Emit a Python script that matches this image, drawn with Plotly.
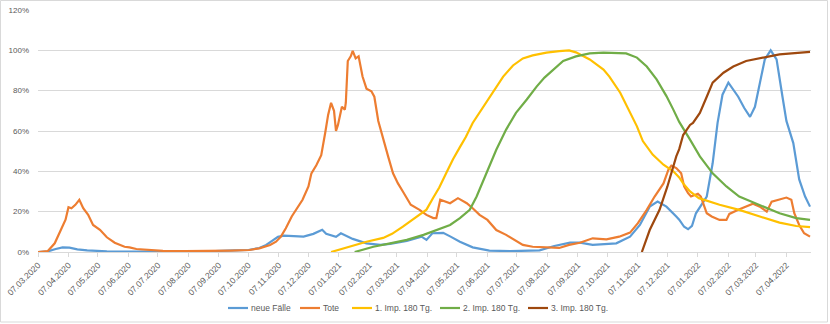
import pandas as pd
import plotly.graph_objects as go

# ---------------- data (day offsets from 07.03.2020, values in %) ----------------
start_date = "2020-03-07"

faelle_days = [0, 10, 18, 25, 32, 40, 50, 70, 100, 150, 180, 200, 214, 225, 232, 238, 244, 250, 260, 270,
               280, 289, 293, 297, 303, 308, 312, 320, 334, 348, 358, 375, 390, 395, 401, 412, 420, 429,
               442, 459, 480, 510, 525, 541, 551, 564, 588, 596, 602, 612, 622, 630, 639, 649, 652, 657,
               661, 665, 669, 680, 686, 691, 696, 702, 712, 718, 724, 729, 734, 739, 745, 751, 757, 761,
               768, 774, 780, 785]
faelle_vals = [0, 0.3, 1.5, 2.3, 2.2, 1.3, 0.8, 0.3, 0.2, 0.3, 0.5, 0.8, 1.0, 2.0, 3.5, 5.5, 7.5, 8.1, 8.0, 7.6,
               9.0, 11.0, 9.0, 8.3, 7.5, 9.3, 8.3, 6.5, 4.3, 3.5, 4.0, 5.5, 7.6, 6.0, 9.3, 9.5, 7.5, 5.1,
               2.3, 0.7, 0.4, 0.8, 3.0, 4.6, 4.6, 3.5, 4.3, 6.0, 7.6, 13.4, 22.5, 25.0, 22.5, 17.6, 16.0, 12.5,
               11.3, 13.0, 19.2, 27.5, 44, 64, 78, 84, 77, 71.5, 67, 72, 84, 95.5, 100, 95.5, 77, 65,
               54, 36, 27.5, 22.5]

tote_days = [0, 10, 17, 22, 28, 31, 34, 38, 42, 46, 51, 56, 63, 70, 78, 88, 93, 100, 114, 127, 150, 180,
             196, 215, 225, 236, 242, 247, 252, 258, 264, 269, 275, 278, 283, 288, 292, 295, 298, 301,
             303, 305, 309, 312, 313, 315, 318, 320, 323, 326, 330, 334, 339, 342, 346, 351, 356, 361,
             366, 371, 374, 379, 388, 395, 402, 405, 409, 415, 419, 427, 436, 442, 449, 457, 466, 476,
             485, 493, 503, 517, 530, 540, 551, 564, 578, 591, 602, 610, 619, 627, 636, 641, 644, 649,
             654, 657, 661, 664, 671, 674, 680, 685, 693, 700, 703, 712, 720, 727, 734, 741, 746, 754,
             761, 766, 769, 774, 779, 785]
tote_vals = [0, 0.5, 4.3, 10, 16, 22.2, 21.7, 23.4, 25.9, 21.7, 18.4, 13.4, 11, 7.3, 4.6, 2.6, 2.3, 1.5,
             1.0, 0.6, 0.4, 0.5, 0.7, 1.0, 1.8, 3.5, 5.1, 7.6, 11.8, 17.6, 22.5, 25.9, 32.5, 39, 43, 48,
             59, 68, 74, 70, 60, 63, 72, 70.6, 74, 94.7, 97, 99.7, 96, 97, 87, 81, 79.7, 77, 65, 55.7,
             47.4, 39, 34, 30, 27.5, 23.4, 20.9, 18.4, 16.8, 16.8, 25.9, 25, 24.2, 26.7, 24.2, 21.7, 18.4,
             15.9, 10.9, 8.5, 6, 3.5, 2.6, 2.3, 2.0, 3.5, 4.6, 6.8, 6.3, 7.6, 9.6, 14.3, 20.9, 27.5, 34,
             40.8, 42.8, 41.6, 39, 32.5, 29.2, 27.5, 28.9, 27.5, 19.2, 17.6, 15.9, 15.9, 18.9, 20.9, 22.5,
             23.9, 22.5, 20, 25, 25.9, 27, 25.9, 19.2, 13.4, 9.3, 7.6]

imp1_days = [298, 317, 334, 351, 360, 371, 385, 395, 402, 408, 415, 422, 429, 435, 442, 450, 459, 466,
             473, 483, 493, 503, 517, 530, 540, 547, 556, 561, 575, 581, 592, 602, 609, 615, 625, 636,
             646, 652, 656, 663, 672, 693, 713, 734, 754, 771, 785]
imp1_vals = [0, 2.6, 5.1, 7, 9, 12.6, 17.6, 21, 27, 32, 39, 46, 52, 57, 64, 70, 77, 82, 87, 92.5, 96,
             97.5, 98.9, 99.6, 100, 99, 97, 95.5, 90.5, 87, 79, 69, 62.3, 55, 48.3, 43.3, 40, 37, 34,
             30, 26.7, 23.4, 20.9, 17.6, 14.6, 12.9, 12.3]

imp2_days = [322, 341, 358, 375, 392, 409, 419, 429, 439, 446, 456, 466, 476, 486, 497, 507, 515, 524,
             534, 547, 561, 575, 598, 609, 619, 629, 639, 646, 652, 663, 673, 686, 700, 713, 734, 754,
             771, 785]
imp2_vals = [0, 2.6, 4.3, 6, 8.5, 11.8, 13.4, 16.8, 20.9, 27.5, 39, 50.7, 60.7, 69, 75.6, 82, 86.5, 90.5,
             94.7, 97, 98.5, 98.9, 98.5, 96.4, 92, 85.6, 77.3, 70.6, 64.5, 55.7, 47.4, 39, 32.5, 27.5,
             23.4, 19.2, 16.8, 15.9]

imp3_days = [614, 622, 632, 640, 649, 652, 656, 663, 666, 673, 680, 686, 697, 707, 720, 737, 754, 785]
imp3_vals = [0, 10.9, 20.9, 32.5, 47.4, 51, 58, 63, 64, 69, 77, 84, 88.9, 92, 94.7, 96.4, 98, 99.2]

tick_labels = ["07.03.2020", "07.04.2020", "07.05.2020", "07.06.2020", "07.07.2020", "07.08.2020",
               "07.09.2020", "07.10.2020", "07.11.2020", "07.12.2020", "07.01.2021", "07.02.2021",
               "07.03.2021", "07.04.2021", "07.05.2021", "07.06.2021", "07.07.2021", "07.08.2021",
               "07.09.2021", "07.10.2021", "07.11.2021", "07.12.2021", "07.01.2022", "07.02.2022",
               "07.03.2022", "07.04.2022"]

y_ticks = [0, 20, 40, 60, 80, 100, 120]

series_names = ["neue Fälle", "Tote", "1. Imp. 180 Tg.", "2. Imp. 180 Tg.", "3. Imp. 180 Tg."]
series_colors = ["#5B9BD5", "#ED7D31", "#FFC000", "#70AD47", "#9E480E"]
series_days = [faelle_days, tote_days, imp1_days, imp2_days, imp3_days]
series_vals = [faelle_vals, tote_vals, imp1_vals, imp2_vals, imp3_vals]

# ---------------- figure ----------------
base = pd.Timestamp(start_date)
FONT = "Liberation Sans"
GRAY = "#595959"
GRID = "#D9D9D9"

fig = go.Figure()
for name, days, vals, color in zip(series_names, series_days, series_vals, series_colors):
    x = base + pd.to_timedelta(days, unit="D")
    y = [v / 100 for v in vals]
    fig.add_trace(go.Scatter(x=x, y=y, mode="lines", name=name,
                             line=dict(color=color, width=2.2)))

tick_dates = pd.to_datetime(tick_labels, format="%d.%m.%Y")

W, H = 830, 324
ML, MR, MT, MB = 38, 19, 10, 72
pw, ph = W - ML - MR, H - MT - MB


def px_x(px):
    return (px - ML) / pw


def px_y(py):
    return (H - MB - py) / ph


fig.update_layout(
    width=W, height=H,
    margin=dict(l=ML, r=MR, t=MT, b=MB, pad=0, autoexpand=False),
    paper_bgcolor="white", plot_bgcolor="white",
    font=dict(family=FONT, size=8, color=GRAY),
    showlegend=False,
    xaxis=dict(type="date", range=[base, base + pd.Timedelta(days=786)], automargin=False,
               tickvals=tick_dates, ticktext=tick_labels, tickangle=-45,
               showgrid=False, showline=True, linecolor=GRID, linewidth=1,
               ticks="outside", ticklen=4, tickcolor=GRID,
               tickfont=dict(family=FONT, size=8.5, color=GRAY), zeroline=False),
    yaxis=dict(range=[0, 1.2], tickvals=[v / 100 for v in y_ticks], automargin=False,
               ticktext=[f"{v}%" for v in y_ticks],
               showgrid=True, gridcolor=GRID, gridwidth=1, zeroline=False,
               showline=False, ticks="", ticklabelstandoff=8,
               tickfont=dict(family=FONT, size=8, color=GRAY)),
)

# legend drawn below the plot (Excel-style short line keys)
legend_x = [228, 300, 352, 440, 528]
legend_y = 308
for lx, name, color in zip(legend_x, series_names, series_colors):
    fig.add_shape(type="line", xref="paper", yref="paper",
                  x0=px_x(lx), x1=px_x(lx + 20), y0=px_y(legend_y), y1=px_y(legend_y),
                  line=dict(color=color, width=2.2))
    fig.add_annotation(xref="paper", yref="paper", x=px_x(lx + 21), y=px_y(legend_y),
                       text=name, showarrow=False, xanchor="left", yanchor="middle",
                       font=dict(family=FONT, size=8.5, color=GRAY))

# outer chart border
fig.add_shape(type="rect", xref="paper", yref="paper",
              x0=px_x(0.5), x1=px_x(827.5), y0=px_y(322), y1=px_y(0.5),
              line=dict(color=GRID, width=1), fillcolor="rgba(0,0,0,0)", layer="below")

fig.write_html("out.html")
